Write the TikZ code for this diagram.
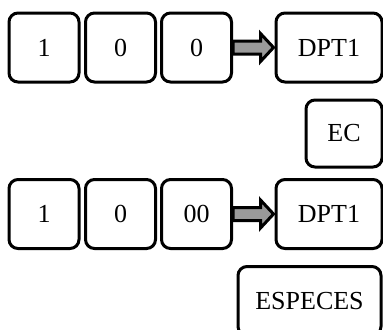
\documentclass[tikz,border=0pt]{standalone}
\usepackage{fontspec}
\setmainfont{Liberation Serif}
\usetikzlibrary{calc}
\definecolor{arrGrey}{HTML}{9A9A9A}
\tikzset{
  keybox/.style   = {draw, line width=1.5pt, rounded corners=4.5pt,
                     minimum height=34.5pt, inner sep=0pt, font=\fontsize{13}{15}\selectfont},
  numkey/.style   = {keybox, minimum width=35pt},
  funkey/.style   = {keybox, minimum width=53pt},
  blockarrow/.style = {draw, line width=1.5pt, fill=arrGrey, line join=miter},
}

\begin{document}
\begin{tikzpicture}[x=0.5pt, y=-0.5pt]
  \useasboundingbox (0,0) rectangle (383,329);
  \clip (0,0) rectangle (383,329);
  % two key sequences
  \foreach \row/\yy/\last in {1/47.5/0, 2/214/00} {
    \node[numkey] (k1\row) at (44,\yy) {1};
    \node[numkey] (k2\row) at (120.5,\yy) {0};
    \node[numkey] (k3\row) at (196.5,\yy) {\last};
    \node[funkey] (dpt\row) at (329,\yy) {DPT1};
    \path (k3\row.east) coordinate (a0) (dpt\row.west) coordinate (a1);
    \draw[blockarrow] ($(a0)+(0,-6.5)$) -- ($(a1)+(-14,-6.5)$) -- ($(a1)+(-14,-14)$)
      -- ($(a1)+(-1,0)$) -- ($(a1)+(-14,14)$) -- ($(a1)+(-14,6.5)$) -- ($(a0)+(0,6.5)$) -- cycle;
  }
  \node[keybox, minimum width=38pt, minimum height=33.5pt] (ec) at (344,133.5) {EC};
  \node[keybox, minimum width=71.5pt] (esp) at (309.5,301) {ESPECES};
\end{tikzpicture}
\end{document}
